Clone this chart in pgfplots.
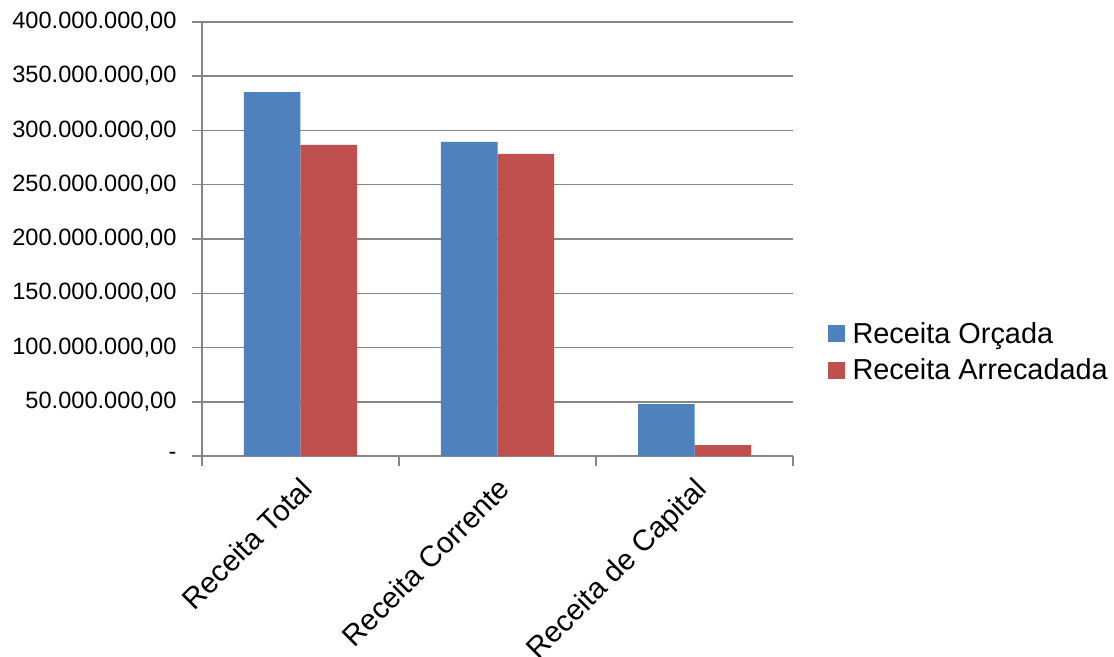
\documentclass[border=0pt]{standalone}
\usepackage{pgfplots}
\pgfplotsset{compat=1.18}
\usepackage{fontspec}
\setmainfont{Liberation Sans}
\definecolor{orcada}{HTML}{4F81BD}
\definecolor{arrecadada}{HTML}{C0504D}
\definecolor{eixo}{HTML}{868686}

\begin{document}
\begin{tikzpicture}
\clip (-202bp,-201bp) rectangle (912bp,456bp);
\begin{axis}[
  scale only axis, width=591bp, height=434bp,
  ybar=0pt, bar width=56.5bp,
  xmin=-0.5, xmax=2.5, ymin=0, ymax=400,
  axis x line*=bottom, axis y line*=left,
  axis line style={eixo, line width=1.5bp},
  tick style={eixo, line width=1.5bp},
  major tick length=10bp, tick align=outside,
  ymajorgrids, grid style={eixo, line width=1.5bp},
  xtick={-0.5,0.5,1.5,2.5}, xticklabels={},
  extra x ticks={0,1,2},
  extra x tick labels={Receita Total, Receita Corrente, Receita de Capital},
  extra x tick style={major tick length=0pt, grid=none,
    xticklabel style={xshift=-1bp, yshift=-15bp, rotate=45, anchor=north east,
      font=\fontsize{29.5}{34}\selectfont}},
  ytick={0,50,...,400},
  yticklabels={-, {50.000.000,00}, {100.000.000,00}, {150.000.000,00},
    {200.000.000,00}, {250.000.000,00}, {300.000.000,00},
    {350.000.000,00}, {400.000.000,00}},
  yticklabel style={anchor=east, xshift=-12bp, font=\fontsize{23.7}{28}\selectfont},
  legend style={at={(1.053,0.24)}, anchor=west, draw=none, fill=none,
    font=\fontsize{29}{33}\selectfont, row sep=10bp,
    /tikz/every odd column/.append style={column sep=6bp}},
  legend cell align=left,
  legend image code/.code={\fill[#1] (0bp,-8.5bp) rectangle (17bp,8.5bp);},
]
\addplot[fill=orcada, draw=none] coordinates {(0,335.4) (1,289.4) (2,47.7)};
\addplot[fill=arrecadada, draw=none] coordinates {(0,286.7) (1,278.4) (2,10.0)};
\legend{Receita Orçada, Receita Arrecadada}
\end{axis}
\end{tikzpicture}
\end{document}
